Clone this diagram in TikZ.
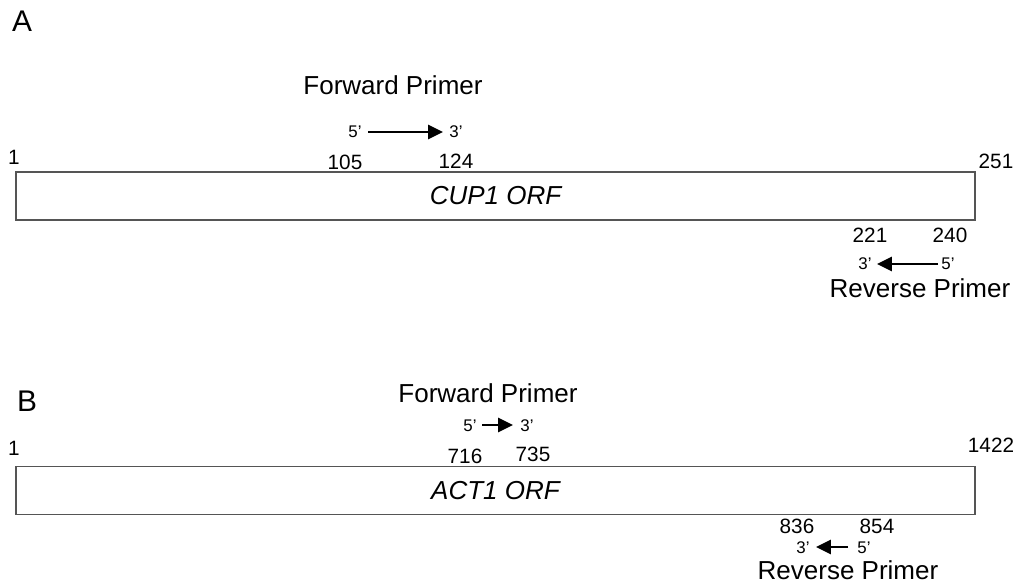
\documentclass[tikz,border=0pt]{standalone}
\usepackage{fontspec}
\setmainfont{Liberation Sans}
\usetikzlibrary{arrows.meta}
\definecolor{boxgray}{HTML}{555555}
\begin{document}
\begin{tikzpicture}[x=0.02cm, y=-0.02cm,
  panel/.style={font=\fontsize{17}{19}\selectfont},
  title/.style={font=\fontsize{14.8}{17}\selectfont},
  posnum/.style={font=\fontsize{11.8}{14}\selectfont},
  prime/.style={font=\fontsize{9.6}{11}\selectfont},
  orfbox/.style={draw=boxgray, line width=0.8pt, minimum width=19.18cm, minimum height=0.96cm, font=\fontsize{14.8}{17}\selectfont\itshape},
  primer/.style={line width=1.6pt, -{Triangle[length=8.5pt, width=8pt]}}]
\useasboundingbox (0,0) rectangle (1021,585);

% panel A
\node[panel] (labA) at (22,21) {A};
\node[orfbox] (cup) at (495.5,196) {CUP1 ORF};
\node[posnum] (cupS) at (14,157) {1};
\node[posnum] (cupE) at (996,161) {251};
\node[title] (cupFwd) at (393,85) {Forward Primer};
\node[posnum] (cupF1) at (345,162) {105};
\node[posnum] (cupF2) at (456,161) {124};
\node[prime] (cupF5) at (355,132) {5'};
\node[prime] (cupF3) at (456,132) {3'};
\coordinate (cupFa) at (368,132);
\coordinate (cupFb) at (443,132);
\draw[primer] (cupFa) -- (cupFb);
\node[posnum] (cupR1) at (870,235) {221};
\node[posnum] (cupR2) at (950,235) {240};
\node[prime] (cupR3) at (865,264) {3'};
\node[prime] (cupR5) at (948,264) {5'};
\coordinate (cupRa) at (938,264);
\coordinate (cupRb) at (877,264);
\draw[primer] (cupRa) -- (cupRb);
\node[title] (cupRev) at (920,288) {Reverse Primer};

% panel B
\node[panel] (labB) at (27,401) {B};
\node[orfbox] (act) at (495.5,490.5) {ACT1 ORF};
\node[posnum] (actS) at (14,448) {1};
\node[posnum] (actE) at (991,445) {1422};
\node[title] (actFwd) at (488,393) {Forward Primer};
\node[posnum] (actF1) at (465,456) {716};
\node[posnum] (actF2) at (533,454) {735};
\node[prime] (actF5) at (470,426) {5'};
\node[prime] (actF3) at (527,426) {3'};
\coordinate (actFa) at (482,425);
\coordinate (actFb) at (513,425);
\draw[primer] (actFa) -- (actFb);
\node[posnum] (actR1) at (797,526) {836};
\node[posnum] (actR2) at (877,526) {854};
\node[prime] (actR3) at (803,548) {3'};
\node[prime] (actR5) at (864,548) {5'};
\coordinate (actRa) at (848,547);
\coordinate (actRb) at (816,547);
\draw[primer] (actRa) -- (actRb);
\node[title] (actRev) at (848,570) {Reverse Primer};
\end{tikzpicture}
\end{document}
